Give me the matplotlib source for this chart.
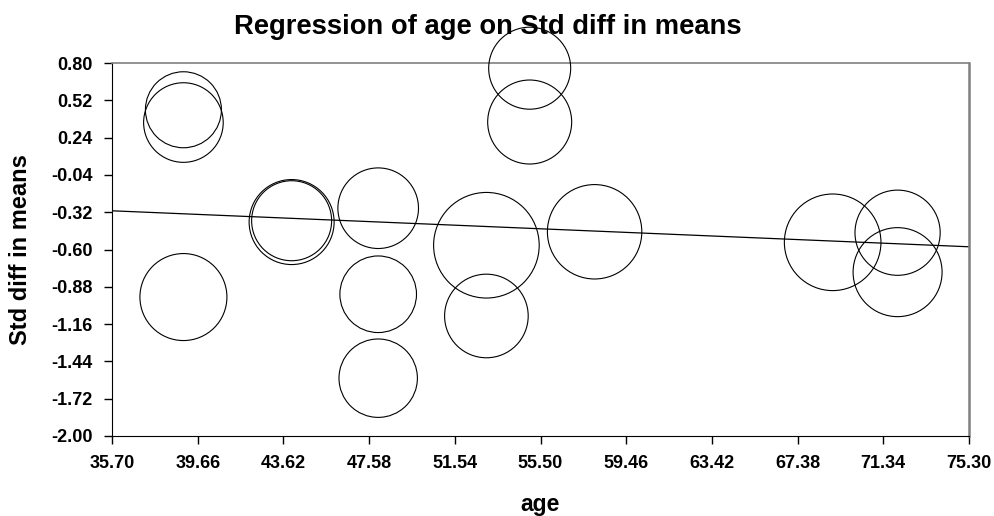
import matplotlib
matplotlib.use('Agg')
import matplotlib.pyplot as plt
import numpy as np

plt.rcParams['font.family'] = ['Liberation Sans', 'DejaVu Sans']

# study ages and std diff in means
age = [39, 39, 39, 44, 44, 48, 48, 48, 53, 53, 55, 55, 58, 69, 72, 72]
std_diff = [0.449, 0.353, -0.957, -0.394, -0.384, -0.290, -0.936, -1.566,
            -0.568, -1.099, 0.761, 0.357, -0.467, -0.546, -0.474, -0.770]
# bubble radius (relative weight of each study)
weight = [38, 39.8, 43.5, 42.5, 40, 40.3, 38.3, 39.2,
          52.8, 41.8, 41, 42, 47.2, 48.3, 42.6, 44.5]

# regression line
intercept = -0.066
slope = -0.00682

xticks = [35.70, 39.66, 43.62, 47.58, 51.54, 55.50, 59.46, 63.42, 67.38, 71.34, 75.30]
yticks = [0.80, 0.52, 0.24, -0.04, -0.32, -0.60, -0.88, -1.16, -1.44, -1.72, -2.00]

fig = plt.figure(figsize=(9.95, 5.16), dpi=100)
ax = fig.add_axes([112/995, 80/516, 857/995, 373/516])

w = np.array(weight)
sizes = (2 * w * 0.72) ** 2
ax.scatter(age, std_diff, s=sizes, facecolors='none', edgecolors='black',
           linewidths=0.8, clip_on=False, zorder=3)

xl = np.array([xticks[0], xticks[-1]])
ax.plot(xl, intercept + slope * xl, color='black', lw=0.9, zorder=2)

ax.set_xlim(xticks[0], xticks[-1])
ax.set_ylim(yticks[-1], yticks[0])
ax.set_xticks(xticks)
ax.set_yticks(yticks)
ax.set_xticklabels(['%.2f' % t for t in xticks])
ax.set_yticklabels(['%.2f' % t for t in yticks])
ax.tick_params(direction='out', length=6, width=1, pad=8, labelsize=13)
for lab in ax.get_xticklabels() + ax.get_yticklabels():
    lab.set_fontweight('bold')

ax.spines['left'].set_color('black')
ax.spines['bottom'].set_color('black')
ax.spines['top'].set_color('#808080')
ax.spines['right'].set_color('#808080')
ax.spines['right'].set_linewidth(1.8)
ax.spines['top'].set_linewidth(1.2)

ax.set_xlabel('age', fontsize=16.5, fontweight='bold', labelpad=15)
ax.set_ylabel('Std diff in means', fontsize=17, fontweight='bold', labelpad=14)
fig.text(488/995, 1 - 27/516, 'Regression of age on Std diff in means',
         ha='center', va='center', fontsize=19.7, fontweight='bold')

plt.savefig('out.png', dpi=100)
